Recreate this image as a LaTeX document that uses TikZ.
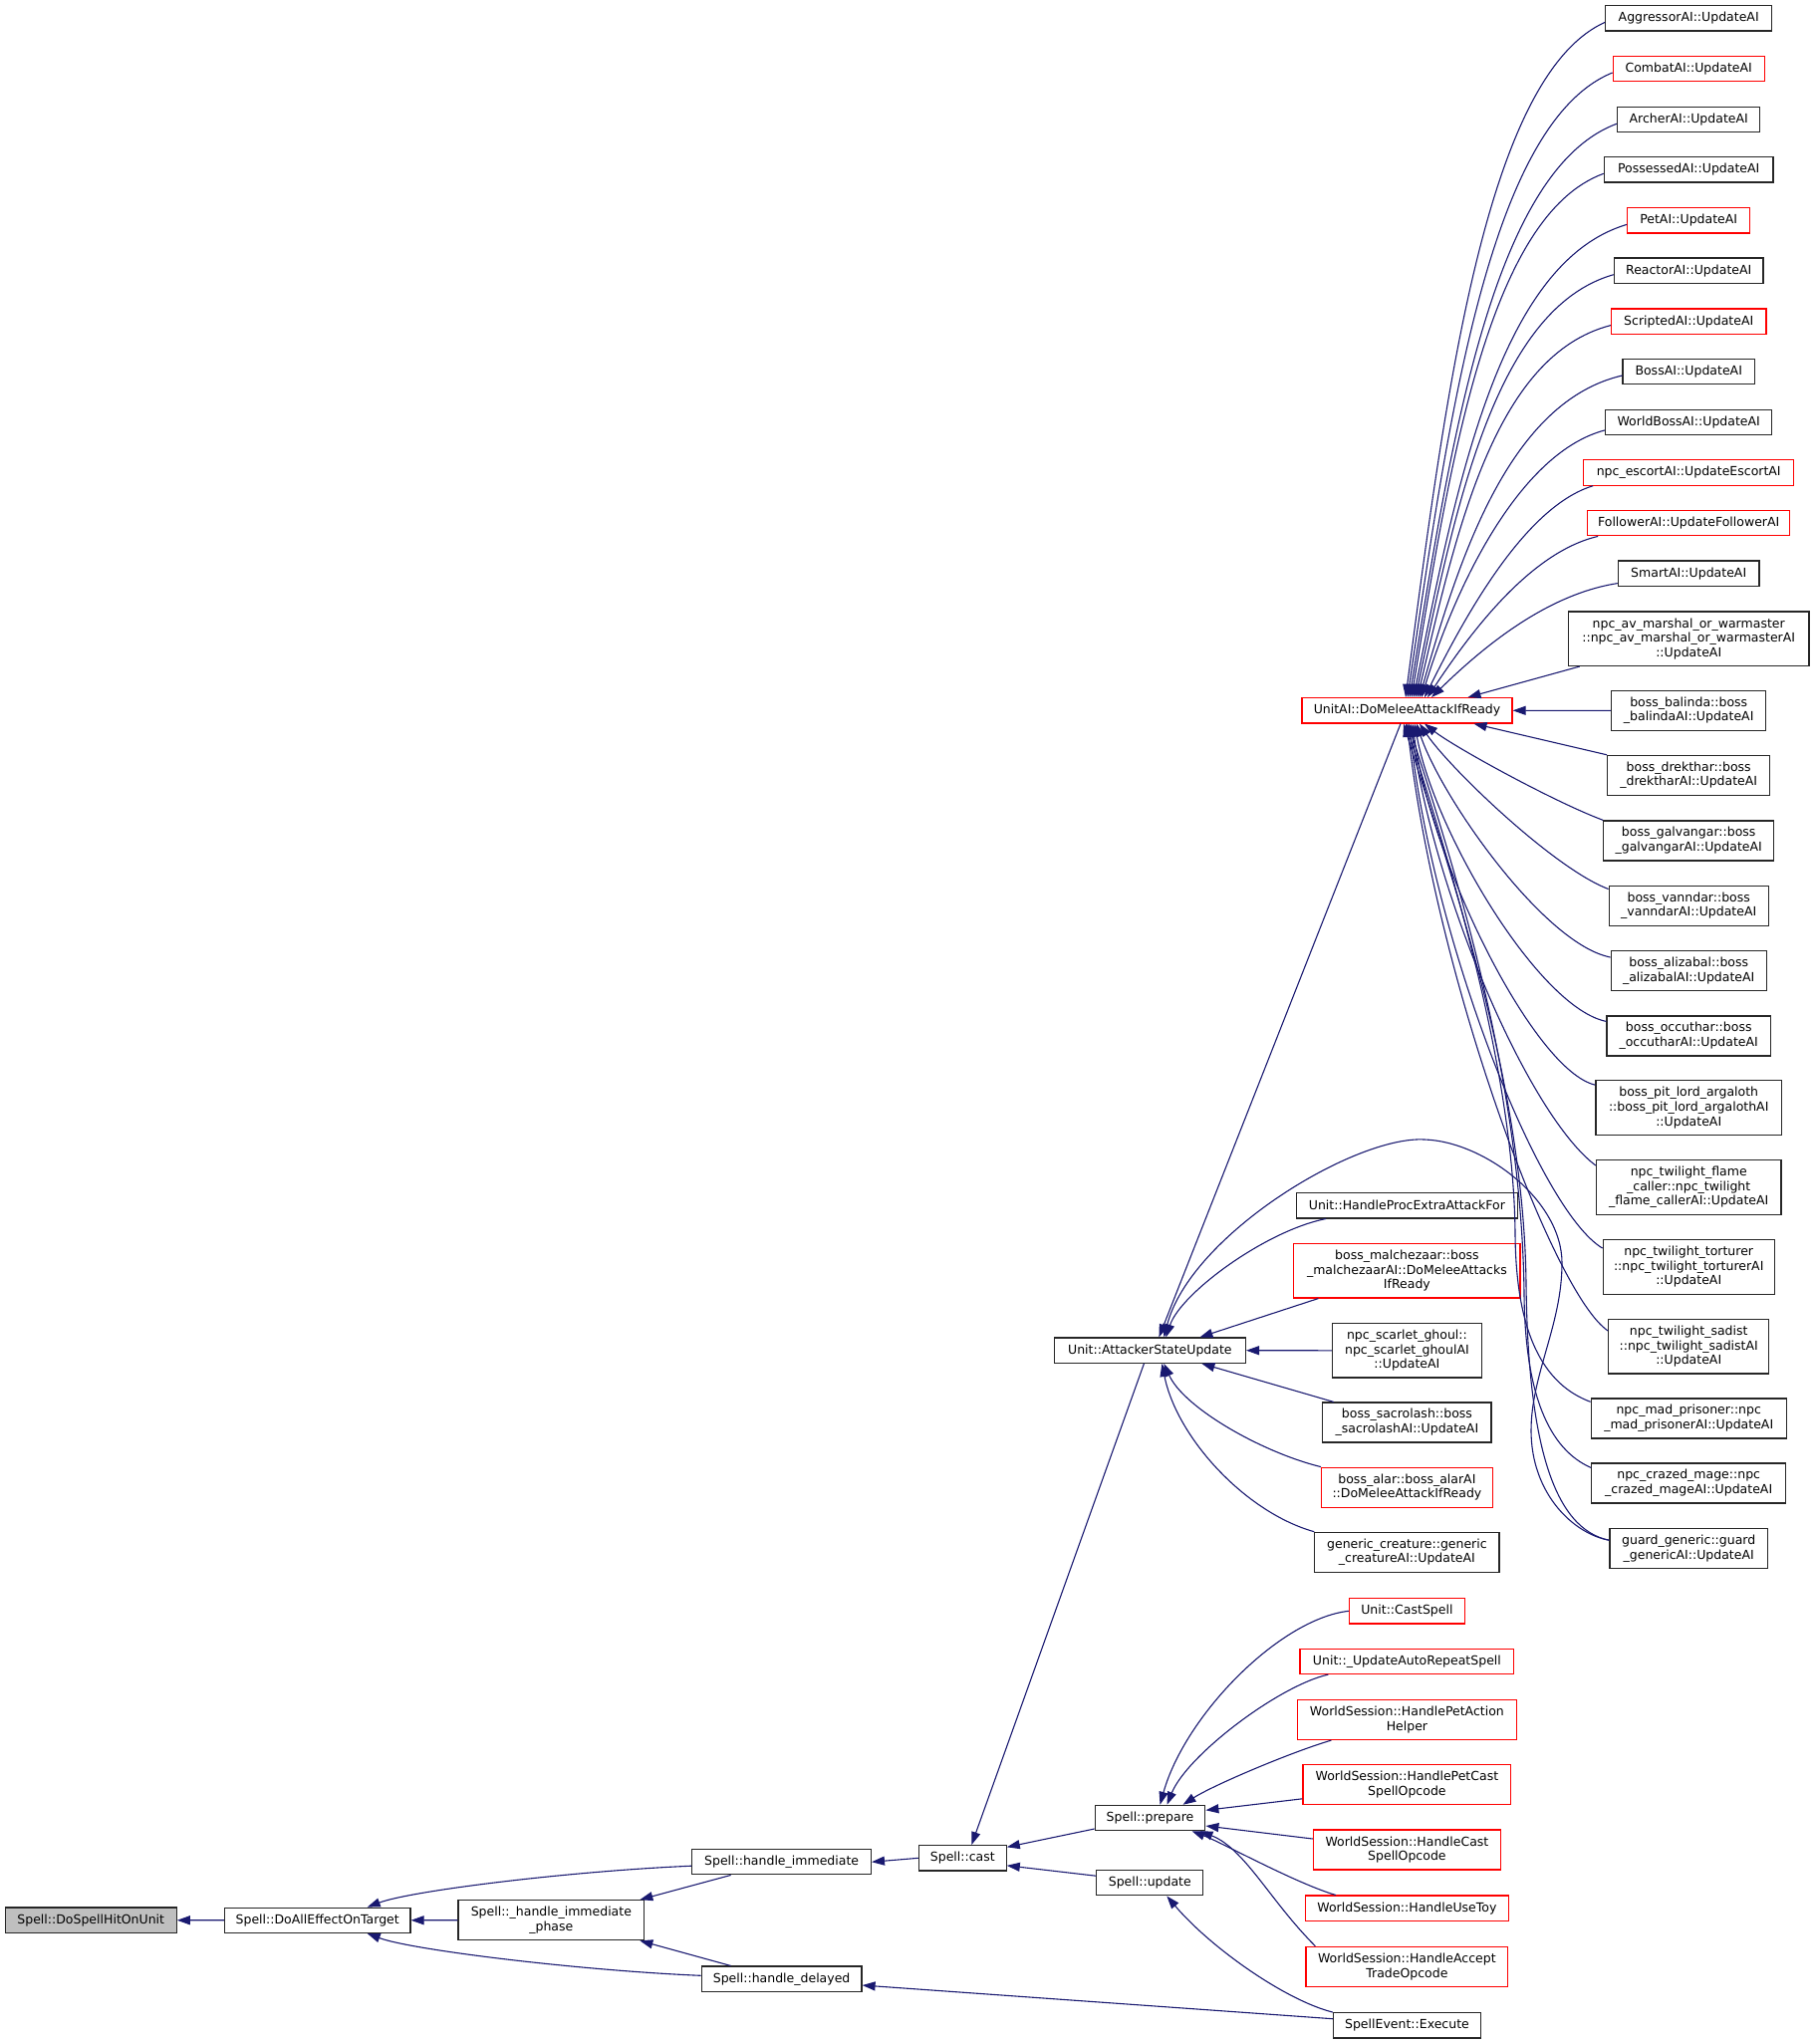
\documentclass[tikz,border=0pt]{standalone}
\usepackage{fontspec}
\setmainfont{DejaVu Sans}
\usetikzlibrary{arrows.meta}
\definecolor{mblue}{HTML}{191970}
\begin{document}
\begin{tikzpicture}[x=1pt,y=-1pt,
 bx/.style={draw=black!85, line width=1.2pt, rectangle, inner sep=0pt, align=center, font=\fontsize{12.5}{14.6}\selectfont},
 rbx/.style={bx, draw=red},
 l1/.style={minimum height=25.3pt},
 l2/.style={minimum height=40pt},
 l3/.style={minimum height=54.5pt},
 cedge/.style={draw=mblue, line width=1.1pt, {Triangle[length=13pt,width=9pt]}-},
]
\useasboundingbox (0,0) rectangle (1821,2052);

% ---------- left part
\node[bx,l1,fill=black!25,minimum width=171.9pt] (hit) at (91.25,1927.7) {Spell::DoSpellHitOnUnit};
\node[bx,l1,minimum width=186.6pt] (all) at (318.7,1927.8) {Spell::DoAllEffectOnTarget};
\node[bx,l2,minimum width=186.7pt] (phase) at (553.35,1927.7) {Spell::\_handle\_immediate\\\_phase};
\node[bx,l1,minimum width=179.6pt] (imm) at (784.6,1869.2) {Spell::handle\_immediate};
\node[bx,l1,minimum width=160.8pt] (delayed) at (784.6,1986.7) {Spell::handle\_delayed};
\node[bx,l1,minimum width=87.8pt] (cast) at (966.3,1865.3) {Spell::cast};
\node[bx,l1,minimum width=110.6pt] (prep) at (1154.5,1825) {Spell::prepare};
\node[bx,l1,minimum width=107pt] (upd) at (1154.3,1890.2) {Spell::update};
\node[bx,l1,minimum width=148.1pt] (ex) at (1412.45,2033.3) {SpellEvent::Execute};
\node[bx,l1,minimum width=192pt] (asu) at (1154.4,1355.7) {Unit::AttackerStateUpdate};
\node[rbx,l1,minimum width=211pt] (melee) at (1412.5,713.3) {UnitAI::DoMeleeAttackIfReady};

% ---------- middle column
\node[bx,l1,minimum width=222.4pt] (proc) at (1412.4,1210.3) {Unit::HandleProcExtraAttackFor};
\node[rbx,l3,minimum width=227.3pt] (malch) at (1412.4,1275.7) {boss\_malchezaar::boss\\\_malchezaarAI::DoMeleeAttacks\\IfReady};
\node[bx,l3,minimum width=149.8pt] (ghoul) at (1412.4,1355.8) {npc\_scarlet\_ghoul::\\npc\_scarlet\_ghoulAI\\::UpdateAI};
\node[bx,l2,minimum width=169.1pt] (sacro) at (1412.4,1428) {boss\_sacrolash::boss\\\_sacrolashAI::UpdateAI};
\node[rbx,l2,minimum width=171.6pt] (alar) at (1412.4,1493.2) {boss\_alar::boss\_alarAI\\::DoMeleeAttackIfReady};
\node[bx,l2,minimum width=185.1pt] (gencr) at (1412.4,1558.3) {generic\_creature::generic\\\_creatureAI::UpdateAI};
\node[rbx,l1,minimum width=115.9pt] (castsp) at (1412.4,1617.3) {Unit::CastSpell};
\node[rbx,l1,minimum width=214.7pt] (autorep) at (1412.4,1667.8) {Unit::\_UpdateAutoRepeatSpell};
\node[rbx,l2,minimum width=219.5pt] (petact) at (1412.4,1726.5) {WorldSession::HandlePetAction\\Helper};
\node[rbx,l2,minimum width=208.9pt] (petcast) at (1412.4,1791.8) {WorldSession::HandlePetCast\\SpellOpcode};
\node[rbx,l2,minimum width=188.1pt] (castop) at (1412.4,1857) {WorldSession::HandleCast\\SpellOpcode};
\node[rbx,l1,minimum width=204.1pt] (toy) at (1412.4,1915.7) {WorldSession::HandleUseToy};
\node[rbx,l2,minimum width=202.9pt] (trade) at (1412.4,1974.3) {WorldSession::HandleAccept\\TradeOpcode};

% ---------- right column
\node[bx,l1,minimum width=167pt] (agg) at (1695.2,18.4) {AggressorAI::UpdateAI};
\node[rbx,l1,minimum width=152pt] (combat) at (1695.2,69) {CombatAI::UpdateAI};
\node[bx,l1,minimum width=143pt] (archer) at (1695.2,120.2) {ArcherAI::UpdateAI};
\node[bx,l1,minimum width=169.7pt] (poss) at (1695.2,170.3) {PossessedAI::UpdateAI};
\node[rbx,l1,minimum width=123pt] (pet) at (1695.2,221.4) {PetAI::UpdateAI};
\node[bx,l1,minimum width=149.7pt] (react) at (1695.2,271.7) {ReactorAI::UpdateAI};
\node[rbx,l1,minimum width=155.4pt] (script) at (1695.2,322.6) {ScriptedAI::UpdateAI};
\node[bx,l1,minimum width=132.3pt] (boss) at (1695.2,373) {BossAI::UpdateAI};
\node[bx,l1,minimum width=167pt] (wboss) at (1695.2,423.9) {WorldBossAI::UpdateAI};
\node[rbx,l1,minimum width=211pt] (escort) at (1695.2,474.5) {npc\_escortAI::UpdateEscortAI};
\node[rbx,l1,minimum width=203pt] (follow) at (1695.2,525.2) {FollowerAI::UpdateFollowerAI};
\node[bx,l1,minimum width=141.7pt] (smart) at (1695.2,575.6) {SmartAI::UpdateAI};
\node[bx,l3,minimum width=241.7pt] (npcav) at (1695.2,641.2) {npc\_av\_marshal\_or\_warmaster\\::npc\_av\_marshal\_or\_warmasterAI\\::UpdateAI};
\node[bx,l2,minimum width=155pt] (balinda) at (1695.2,713.4) {boss\_balinda::boss\\\_balindaAI::UpdateAI};
\node[bx,l2,minimum width=163pt] (drek) at (1695.2,778.4) {boss\_drekthar::boss\\\_drektharAI::UpdateAI};
\node[bx,l2,minimum width=171pt] (galv) at (1695.2,843.9) {boss\_galvangar::boss\\\_galvangarAI::UpdateAI};
\node[bx,l2,minimum width=160pt] (vann) at (1695.2,909.1) {boss\_vanndar::boss\\\_vanndarAI::UpdateAI};
\node[bx,l2,minimum width=156pt] (aliz) at (1695.2,974.6) {boss\_alizabal::boss\\\_alizabalAI::UpdateAI};
\node[bx,l2,minimum width=164.3pt] (occ) at (1695.2,1040) {boss\_occuthar::boss\\\_occutharAI::UpdateAI};
\node[bx,l3,minimum width=186.6pt] (pit) at (1695.2,1112) {boss\_pit\_lord\_argaloth\\::boss\_pit\_lord\_argalothAI\\::UpdateAI};
\node[bx,l3,minimum width=185.4pt] (flame) at (1695.2,1191.9) {npc\_twilight\_flame\\\_caller::npc\_twilight\\\_flame\_callerAI::UpdateAI};
\node[bx,l3,minimum width=172pt] (tort) at (1695.2,1271.9) {npc\_twilight\_torturer\\::npc\_twilight\_torturerAI\\::UpdateAI};
\node[bx,l3,minimum width=161pt] (sad) at (1695.2,1351.8) {npc\_twilight\_sadist\\::npc\_twilight\_sadistAI\\::UpdateAI};
\node[bx,l2,minimum width=196pt] (mad) at (1695.2,1423.9) {npc\_mad\_prisoner::npc\\\_mad\_prisonerAI::UpdateAI};
\node[bx,l2,minimum width=195pt] (craz) at (1695.2,1489) {npc\_crazed\_mage::npc\\\_crazed\_mageAI::UpdateAI};
\node[bx,l2,minimum width=158.6pt] (guard) at (1695.2,1554.8) {guard\_generic::guard\\\_genericAI::UpdateAI};

% ---------- edges, left chain
\draw[cedge] (hit) -- (all);
\draw[cedge] (all) -- (phase);
\draw[cedge] ([xshift=50pt]all.north) .. controls (413.7,1897.8) and (574.8,1878.3) .. ([yshift=-4pt]imm.west);
\draw[cedge] ([xshift=50pt]all.south) .. controls (413.7,1957.8) and (584.2,1978.3) .. ([yshift=3.4pt]delayed.west);
\draw[cedge] ([xshift=89pt]phase.north) -- ([xshift=-51pt]imm.south);
\draw[cedge] ([xshift=89pt]phase.south) -- ([xshift=-51pt]delayed.north);
\draw[cedge] (imm.east) -- (cast.west);
\draw[cedge] ([yshift=-6.3pt]delayed.east) -- ([yshift=6.6pt]ex.west);
\draw[cedge] ([yshift=11pt]cast.east) -- ([yshift=-11pt]prep.west);
\draw[cedge] ([yshift=-7.5pt]cast.east) -- ([yshift=7pt]upd.west);
\draw[cedge] ([xshift=17pt]upd.south) .. controls (1215,1955) and (1290,2008) .. (ex.north west);
\draw[cedge] ([xshift=9pt]cast.north) -- ([xshift=-6pt]asu.south);
\draw[cedge] ([xshift=9pt]asu.north) -- ([xshift=-6.5pt]melee.south);

% ---------- callers of Spell::prepare
\draw[cedge] ([xshift=10pt]prep.north) .. controls (1189.5,1722.3) and (1284.3,1625.3) .. (castsp.west);
\draw[cedge] ([xshift=17pt]prep.north) .. controls (1191.5,1762.3) and (1283.5,1692.3) .. ([xshift=-79pt]autorep.south);
\draw[cedge] ([xshift=33pt]prep.north) .. controls (1217.5,1792.3) and (1296.7,1758.7) .. ([xshift=-76pt]petact.south);
\draw[cedge] ([yshift=7.7pt]prep.east) -- ([yshift=-14pt]petcast.west);
\draw[cedge] ([yshift=-8pt]prep.east) -- ([yshift=11pt]castop.west);
\draw[cedge] ([xshift=42pt]prep.south) .. controls (1226.5,1849.7) and (1300.8,1890.7) .. ([xshift=-71.5pt]toy.north);
\draw[cedge] ([xshift=50pt]prep.south) .. controls (1249.5,1855.7) and (1275.4,1909) .. ([xshift=-92pt]trade.north);

% ---------- callers of Unit::AttackerStateUpdate
\draw[cedge] ([xshift=16pt]asu.north) .. controls (1185.4,1298) and (1271,1235.3) .. ([xshift=-81.4pt]proc.south);
\draw[cedge] ([xshift=50pt]asu.north) -- ([xshift=-89pt]malch.south);
\draw[cedge] (asu.east) -- (ghoul.west);
\draw[cedge] ([xshift=52pt]asu.south) -- ([xshift=-73.6pt]sacro.north);
\draw[cedge] ([xshift=14pt]asu.south) .. controls (1188.4,1413.3) and (1266.6,1458) .. (alar.north west);
\draw[cedge] ([xshift=12pt]asu.south) .. controls (1181.4,1443.3) and (1250.1,1518.3) .. (gencr.north west);
\draw[cedge] ([xshift=14pt]asu.north) .. controls (1195,1240) and (1360,1140) .. (1430,1144)
   .. controls (1490,1146) and (1568,1205) .. (1568,1268)
   .. controls (1568,1330) and (1537,1380) .. (1537,1436)
   .. controls (1537,1500) and (1580,1540) .. ([yshift=-12pt]guard.north west);

% ---------- callers of UnitAI::DoMeleeAttackIfReady (top)
\draw[cedge] ([xshift=-1.5pt]melee.north) .. controls (1451.1,395.3) and (1491.3,76.6) .. ([yshift=-4pt]agg.west);
\draw[cedge] ([xshift=0.5pt]melee.north) .. controls (1454.2,418.1) and (1495.4,123.2) .. ([yshift=-4pt]combat.west);
\draw[cedge] ([xshift=2.5pt]melee.north) .. controls (1456.7,441.1) and (1498.5,170.3) .. ([yshift=-4pt]archer.west);
\draw[cedge] ([xshift=4.5pt]melee.north) .. controls (1455.7,463.7) and (1494.3,216.4) .. ([yshift=-4pt]poss.west);
\draw[cedge] ([xshift=6.5pt]melee.north) .. controls (1461.9,486.7) and (1504.9,263.4) .. ([yshift=-4pt]pet.west);
\draw[cedge] ([xshift=8.5pt]melee.north) .. controls (1460.9,509.3) and (1500.7,309.7) .. ([yshift=-4pt]react.west);
\draw[cedge] ([xshift=10.5pt]melee.north) .. controls (1461.9,532.2) and (1500.7,356.5) .. ([yshift=-4pt]script.west);
\draw[cedge] ([xshift=12.5pt]melee.north) .. controls (1465.8,554.9) and (1516.8,402.9) .. ([yshift=-4pt]boss.west);
\draw[cedge] ([xshift=14.5pt]melee.north) .. controls (1463.9,579.6) and (1528.6,453.4) .. ([yshift=-8pt]wboss.west);
\draw[cedge] ([xshift=17.5pt]melee.north) .. controls (1472.4,615) and (1531.8,508.3) .. ([xshift=10pt]escort.south west);
\draw[cedge] ([xshift=20.5pt]melee.north) .. controls (1475.9,635.4) and (1536,554.2) .. ([xshift=11pt]follow.south west);
\draw[cedge] ([xshift=24.5pt]melee.north) .. controls (1483.8,654.5) and (1549.4,597.1) .. ([yshift=-10pt]smart.west);
\draw[cedge] ([xshift=61pt]melee.north) -- ([xshift=12pt]npcav.south west);
\draw[cedge] (melee.east) -- (balinda.west);

% ---------- callers of UnitAI::DoMeleeAttackIfReady (bottom)
\draw[cedge] ([xshift=67pt]melee.south) -- (drek.north west);
\draw[cedge] ([xshift=17.5pt]melee.south) .. controls (1460,750) and (1560,805) .. (galv.north west);
\draw[cedge] ([xshift=12.5pt]melee.south) .. controls (1455,771) and (1560,872) .. ([yshift=-4pt]vann.north west);
\draw[cedge] ([xshift=9.5pt]melee.south) .. controls (1447,801) and (1550,948) .. ([yshift=-7pt]aliz.north west);
\draw[cedge] ([xshift=7.5pt]melee.south) .. controls (1440,836) and (1545,1012) .. ([yshift=-6pt]occ.north west);
\draw[cedge] ([xshift=5.5pt]melee.south) .. controls (1436,866) and (1540,1075) .. ([yshift=-5pt]pit.north west);
\draw[cedge] ([xshift=3.5pt]melee.south) .. controls (1440,900) and (1535,1120) .. ([yshift=-6pt]flame.north west);
\draw[cedge] ([xshift=2pt]melee.south) .. controls (1439,946) and (1545,1215) .. ([yshift=-9pt]tort.north west);
\draw[cedge] ([xshift=0pt]melee.south) .. controls (1442,986) and (1560,1300) .. ([yshift=-12pt]sad.north west);
\draw[cedge] ([xshift=-1.5pt]melee.south) .. controls (1460,880) and (1520,1080) .. (1521,1240)
   .. controls (1522,1340) and (1550,1390) .. ([yshift=-4pt]mad.north west);
\draw[cedge] ([xshift=1pt]melee.south) .. controls (1470,900) and (1528,1100) .. (1530,1300)
   .. controls (1531,1400) and (1555,1455) .. ([yshift=-5pt]craz.north west);
\draw[cedge] ([xshift=-3.5pt]melee.south) .. controls (1450,860) and (1530,1080) .. (1532,1290)
   .. controls (1534,1450) and (1560,1535) .. ([yshift=-12pt]guard.north west);
\end{tikzpicture}
\end{document}
